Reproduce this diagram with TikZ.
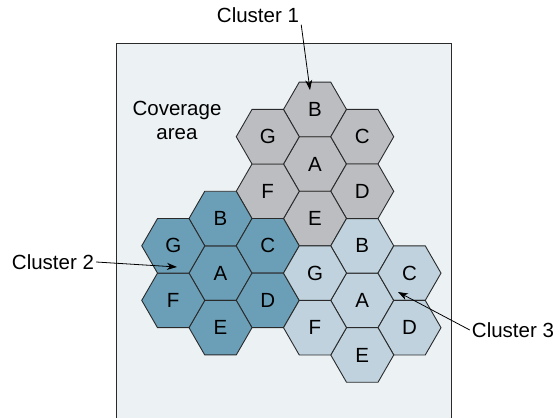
\documentclass[tikz,border=0pt]{standalone}
\usepackage{fontspec}
\setmainfont{Liberation Sans}
\usepackage{tikz}
\usetikzlibrary{arrows.meta,shapes.geometric}
\definecolor{areabg}{HTML}{ECF1F4}
\definecolor{clgray}{HTML}{BCBDC1}
\definecolor{clteal}{HTML}{6B9FB7}
\definecolor{cllight}{HTML}{BFD2DE}
\definecolor{edge}{HTML}{2A2A2A}

\tikzset{
  hexcell/.style={regular polygon,regular polygon sides=6,minimum size=63pt,
    inner sep=0pt,draw=edge,line width=0.9pt,font=\fontsize{20.5}{24}\selectfont},
  lab/.style={font=\fontsize{20.5}{24}\selectfont,inner sep=2pt},
  pointer/.style={-{Stealth[length=10pt,width=7pt,inset=3pt]},line width=0.8pt,black}
}

\begin{document}
\begin{tikzpicture}[x=1pt,y=-1pt]
\clip (0,0) rectangle (555,418);
% coverage area
\draw[fill=areabg,draw=edge,line width=0.9pt] (116,43) rectangle (451,430);
\node[lab,align=center] (cov) at (177,120) {Coverage\\area};
% three clusters of seven cells
\foreach \cl/\cx/\cy/\col in {1/315/164/clgray,2/220.5/273.1/clteal,3/362.25/300.4/cllight}
  \foreach \lt/\i/\j in {A/0/0,B/0/-2,C/1/-1,D/1/1,E/0/2,F/-1/1,G/-1/-1}
    \node[hexcell,fill=\col] (c\cl\lt) at (\cx+47.25*\i,\cy+27.28*\j) {\lt};
% labels
\node[lab] (lab1) at (258,15) {Cluster 1};
\node[lab] (lab2) at (53,262) {Cluster 2};
\node[lab] (lab3) at (513,330) {Cluster 3};
\coordinate (tip1) at (310,90);
\coordinate (tip2) at (177,267);
\coordinate (tip3) at (398,292);
\draw[pointer] (lab1.south east) -- (tip1);
\draw[pointer] (lab2.east) -- (tip2);
\draw[pointer] (lab3.west) -- (tip3);
\end{tikzpicture}
\end{document}
